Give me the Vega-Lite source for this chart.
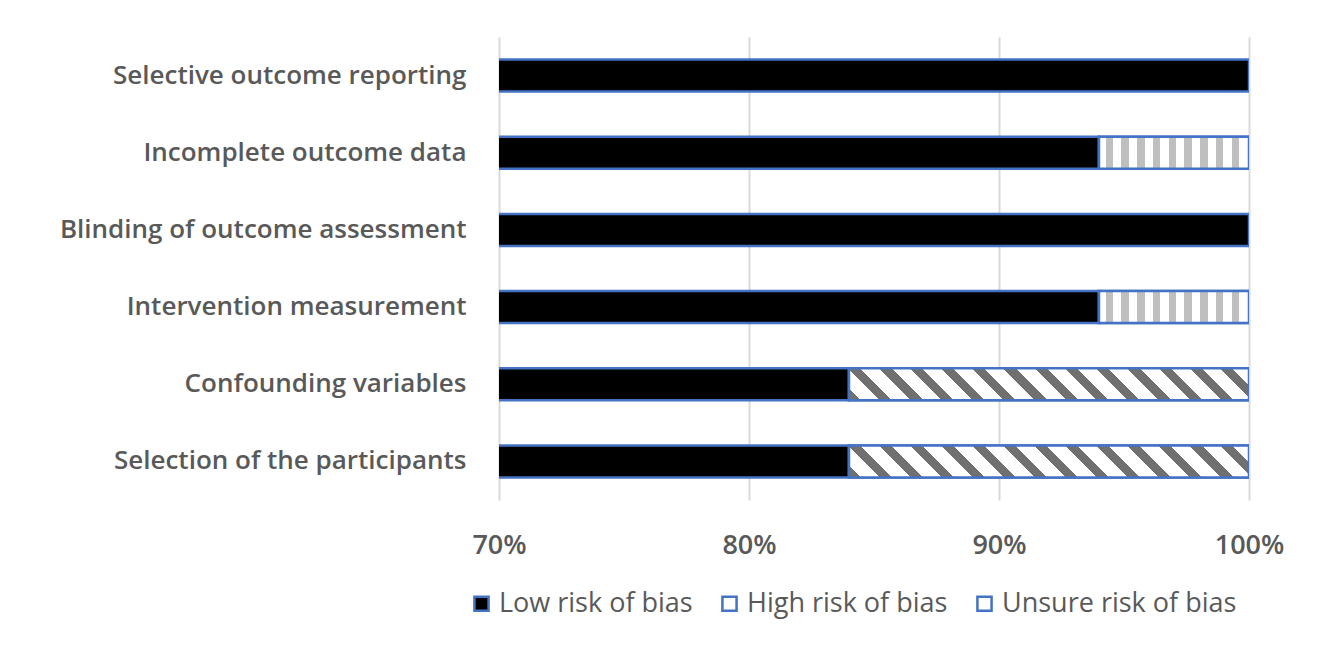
{
  "$schema": "https://vega.github.io/schema/vega-lite/v6.json",
  "width": 750,
  "height": 463,
  "autosize": {"type": "none"},
  "padding": {"left": 499, "top": 37, "right": 74, "bottom": 145},
  "background": "white",
  "config": {"view": {"stroke": null}, "font": "Open Sans"},
  "data": {
    "values": [
      {"item": "Selective outcome reporting", "category": "Low risk of bias", "value": 1.0},
      {"item": "Incomplete outcome data", "category": "Low risk of bias", "value": 0.94},
      {"item": "Incomplete outcome data", "category": "Unsure risk of bias", "value": 0.06},
      {"item": "Blinding of outcome assessment", "category": "Low risk of bias", "value": 1.0},
      {"item": "Intervention measurement", "category": "Low risk of bias", "value": 0.94},
      {"item": "Intervention measurement", "category": "Unsure risk of bias", "value": 0.06},
      {"item": "Confounding variables", "category": "Low risk of bias", "value": 0.84},
      {"item": "Confounding variables", "category": "High risk of bias", "value": 0.16},
      {"item": "Selection of the participants", "category": "Low risk of bias", "value": 0.84},
      {"item": "Selection of the participants", "category": "High risk of bias", "value": 0.16}
    ]
  },
  "encoding": {
    "y": {
      "field": "item",
      "type": "nominal",
      "sort": ["Selective outcome reporting", "Incomplete outcome data", "Blinding of outcome assessment", "Intervention measurement", "Confounding variables", "Selection of the participants"],
      "scale": {"paddingInner": 0.585, "paddingOuter": 0.2925},
      "axis": {"title": null, "domain": false, "ticks": false, "labelPadding": 33, "labelFontSize": 26, "labelFontWeight": 600, "labelColor": "#595959", "labelLimit": 0}
    },
    "x": {
      "field": "value",
      "type": "quantitative",
      "stack": "zero",
      "scale": {"domain": [0.7, 1]},
      "axis": {"title": null, "format": ".0%", "values": [0.7, 0.8, 0.9, 1], "domain": false, "ticks": false, "labelFlush": false, "gridColor": "#d9d9d9", "gridWidth": 2, "labelPadding": 32, "labelFontSize": 27, "labelFontWeight": 600, "labelColor": "#595959"}
    },
    "order": {"field": "value", "type": "quantitative", "sort": "descending"}
  },
  "layer": [
    {
      "mark": {"type": "bar", "clip": true, "stroke": "#4472c4", "strokeWidth": 2.5},
      "encoding": {
        "fill": {
          "field": "category",
          "type": "nominal",
          "scale": {"domain": ["Low risk of bias", "High risk of bias", "Unsure risk of bias"], "range": ["black", "white", "white"]},
          "legend": {
            "title": null,
            "orient": "none",
            "legendX": -31,
            "legendY": 553,
            "direction": "horizontal",
            "symbolType": "square",
            "symbolSize": 200,
            "symbolStrokeColor": "#4472c4",
            "symbolStrokeWidth": 2.5,
            "labelFontSize": 27,
            "labelFontWeight": 500,
            "labelColor": "#595959",
            "labelOffset": 4,
            "columnPadding": 23,
            "labelLimit": 0
          }
        }
      }
    },
    {
      "mark": {
        "type": "bar",
        "clip": true,
        "strokeWidth": 2.5,
        "stroke": "#4472c4",
        "fill": {
          "gradient": "linear",
          "x1": 0, "y1": 1, "x2": 1.0731, "y2": 0.9142,
          "stops": [
            {"offset": 0, "color": "#707070"}, {"offset": 0.028, "color": "#707070"}, {"offset": 0.028, "color": "white"}, {"offset": 0.072, "color": "white"},
            {"offset": 0.072, "color": "#707070"}, {"offset": 0.1, "color": "#707070"}, {"offset": 0.1, "color": "white"}, {"offset": 0.144, "color": "white"},
            {"offset": 0.144, "color": "#707070"}, {"offset": 0.172, "color": "#707070"}, {"offset": 0.172, "color": "white"}, {"offset": 0.215, "color": "white"},
            {"offset": 0.215, "color": "#707070"}, {"offset": 0.243, "color": "#707070"}, {"offset": 0.243, "color": "white"}, {"offset": 0.287, "color": "white"},
            {"offset": 0.287, "color": "#707070"}, {"offset": 0.315, "color": "#707070"}, {"offset": 0.315, "color": "white"}, {"offset": 0.359, "color": "white"},
            {"offset": 0.359, "color": "#707070"}, {"offset": 0.387, "color": "#707070"}, {"offset": 0.387, "color": "white"}, {"offset": 0.431, "color": "white"},
            {"offset": 0.431, "color": "#707070"}, {"offset": 0.459, "color": "#707070"}, {"offset": 0.459, "color": "white"}, {"offset": 0.503, "color": "white"},
            {"offset": 0.503, "color": "#707070"}, {"offset": 0.531, "color": "#707070"}, {"offset": 0.531, "color": "white"}, {"offset": 0.574, "color": "white"},
            {"offset": 0.574, "color": "#707070"}, {"offset": 0.602, "color": "#707070"}, {"offset": 0.602, "color": "white"}, {"offset": 0.646, "color": "white"},
            {"offset": 0.646, "color": "#707070"}, {"offset": 0.674, "color": "#707070"}, {"offset": 0.674, "color": "white"}, {"offset": 0.718, "color": "white"},
            {"offset": 0.718, "color": "#707070"}, {"offset": 0.746, "color": "#707070"}, {"offset": 0.746, "color": "white"}, {"offset": 0.79, "color": "white"},
            {"offset": 0.79, "color": "#707070"}, {"offset": 0.818, "color": "#707070"}, {"offset": 0.818, "color": "white"}, {"offset": 0.862, "color": "white"},
            {"offset": 0.862, "color": "#707070"}, {"offset": 0.89, "color": "#707070"}, {"offset": 0.89, "color": "white"}, {"offset": 0.933, "color": "white"},
            {"offset": 0.933, "color": "#707070"}, {"offset": 0.961, "color": "#707070"}, {"offset": 0.961, "color": "white"}, {"offset": 1, "color": "white"}
          ]
        }
      },
      "encoding": {
        "opacity": {"condition": {"test": "datum.category === 'High risk of bias'", "value": 1}, "value": 0}
      }
    },
    {
      "mark": {
        "type": "bar",
        "clip": true,
        "strokeWidth": 2.5,
        "stroke": "#4472c4",
        "fill": {
          "gradient": "linear",
          "x1": 0, "y1": 0, "x2": 1, "y2": 0,
          "stops": [
            {"offset": 0, "color": "white"}, {"offset": 0.045, "color": "white"},
            {"offset": 0.045, "color": "#bfbfbf"}, {"offset": 0.095, "color": "#bfbfbf"}, {"offset": 0.095, "color": "white"}, {"offset": 0.15, "color": "white"},
            {"offset": 0.15, "color": "#bfbfbf"}, {"offset": 0.2, "color": "#bfbfbf"}, {"offset": 0.2, "color": "white"}, {"offset": 0.255, "color": "white"},
            {"offset": 0.255, "color": "#bfbfbf"}, {"offset": 0.305, "color": "#bfbfbf"}, {"offset": 0.305, "color": "white"}, {"offset": 0.36, "color": "white"},
            {"offset": 0.36, "color": "#bfbfbf"}, {"offset": 0.41, "color": "#bfbfbf"}, {"offset": 0.41, "color": "white"}, {"offset": 0.465, "color": "white"},
            {"offset": 0.465, "color": "#bfbfbf"}, {"offset": 0.515, "color": "#bfbfbf"}, {"offset": 0.515, "color": "white"}, {"offset": 0.57, "color": "white"},
            {"offset": 0.57, "color": "#bfbfbf"}, {"offset": 0.62, "color": "#bfbfbf"}, {"offset": 0.62, "color": "white"}, {"offset": 0.675, "color": "white"},
            {"offset": 0.675, "color": "#bfbfbf"}, {"offset": 0.725, "color": "#bfbfbf"}, {"offset": 0.725, "color": "white"}, {"offset": 0.78, "color": "white"},
            {"offset": 0.78, "color": "#bfbfbf"}, {"offset": 0.83, "color": "#bfbfbf"}, {"offset": 0.83, "color": "white"}, {"offset": 0.885, "color": "white"},
            {"offset": 0.885, "color": "#bfbfbf"}, {"offset": 0.935, "color": "#bfbfbf"}, {"offset": 0.935, "color": "white"}, {"offset": 1, "color": "white"}
          ]
        }
      },
      "encoding": {
        "opacity": {"condition": {"test": "datum.category === 'Unsure risk of bias'", "value": 1}, "value": 0}
      }
    }
  ]
}
